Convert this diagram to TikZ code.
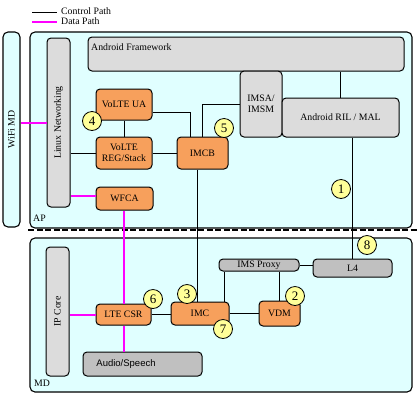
\documentclass[tikz,border=0pt]{standalone}
\usepackage{fontspec}
\setmainfont{Liberation Serif}
\newfontfamily\sansf{Liberation Sans}
\definecolor{bgcyan}{HTML}{E0FFFF}
\definecolor{orangef}{HTML}{F7A05C}
\definecolor{grayf}{HTML}{DCDCDC}
\definecolor{darkf}{HTML}{C0C0C0}
\definecolor{badgef}{HTML}{FFFF99}
\definecolor{magline}{HTML}{FF00FF}
\begin{document}
\begin{tikzpicture}[x=1pt,y=-1pt,
  txt/.style={font=\fontsize{9.8}{10.5}\selectfont, inner sep=0pt},
  regbox/.style={draw, line width=1.1pt, rounded corners=5pt, fill=bgcyan, inner sep=0pt},
  ibox/.style={draw, line width=1pt, rounded corners=4pt, inner sep=0pt, align=center,
               font=\fontsize{9.8}{10.5}\selectfont},
  obox/.style={ibox, fill=orangef},
  gbox/.style={ibox, fill=grayf},
  dbox/.style={ibox, fill=darkf},
  badgec/.style={circle, draw, line width=0.8pt, fill=badgef, minimum size=19pt, inner sep=0pt,
                 font=\fontsize{13}{13}\selectfont},
  ctrlline/.style={draw, line width=0.8pt},
  dataline/.style={draw=magline, line width=2pt}
]
\useasboundingbox (0,0) rectangle (417,400);

% legend
\coordinate (lc1) at (32,12);
\coordinate (lc2) at (57,12);
\coordinate (ld1) at (32,22);
\coordinate (ld2) at (57,22);
\draw[ctrlline] (lc1) -- (lc2);
\draw[dataline] (ld1) -- (ld2);
\node[txt, anchor=west] (lgc) at (61,11.5) {Control Path};
\node[txt, anchor=west] (lgd) at (61,21.5) {Data Path};

% regions
\node[regbox, minimum width=17pt, minimum height=195pt] (wifi) at (11.5,129.5) {};
\node[txt, rotate=90] (wifilabel) at (wifi.center) {WiFi MD};
\node[regbox, minimum width=382pt, minimum height=196pt] (ap) at (221,130) {};
\node[txt, anchor=west] (aplabel) at (33,218) {AP};
\node[regbox, minimum width=382pt, minimum height=154pt] (md) at (221,315) {};
\node[txt, anchor=west] (mdlabel) at (34,383) {MD};

% dashed divider
\coordinate (dl1) at (28,229.5);
\coordinate (dl2) at (417,229.5);
\draw[line width=2pt, dash pattern=on 6pt off 2.5pt] (dl1) -- (dl2);

% AP side boxes
\node[gbox, minimum width=23pt, minimum height=169pt] (linux) at (58.5,122.5) {};
\node[txt, rotate=90] (linuxlabel) at (linux.center) {Linux Networking};
\node[gbox, minimum width=316pt, minimum height=34pt] (fw) at (246,54) {};
\node[txt, anchor=west] (fwlabel) at (91,47.5) {Android Framework};
\node[gbox, minimum width=42pt, minimum height=66pt] (imsa) at (261,104) {IMSA/\\[1pt]IMSM};
\node[gbox, minimum width=117pt, minimum height=39pt] (ril) at (340.5,117.5) {Android RIL / MAL};
\node[obox, minimum width=56pt, minimum height=31pt] (ua) at (124,104.5) {VoLTE UA};
\node[obox, minimum width=56pt, minimum height=32pt] (reg) at (124,153) {VoLTE\\[1pt]REG/Stack};
\node[obox, minimum width=51pt, minimum height=32pt] (imcb) at (202.5,153) {IMCB};
\node[obox, minimum width=57pt, minimum height=23pt] (wfca) at (124.5,198.5) {WFCA};

% MD side boxes
\node[dbox, minimum width=79pt, minimum height=18pt] (l4) at (352.5,268) {L4};
\node[dbox, minimum width=80pt, minimum height=12pt] (proxy) at (259,265) {IMS Proxy};
\node[obox, minimum width=58pt, minimum height=23pt] (imc) at (200,313.5) {IMC};
\node[obox, minimum width=41pt, minimum height=25pt] (vdm) at (279.5,313.5) {VDM};
\node[obox, minimum width=55pt, minimum height=21pt] (csr) at (123.5,314.5) {LTE CSR};
\node[gbox, minimum width=23pt, minimum height=129pt] (ipcore) at (57.5,311.5) {};
\node[txt, rotate=90] (ipcorelabel) at (ipcore.center) {IP Core};
\node[dbox, minimum width=119pt, minimum height=24pt] (audio) at (142.5,364) {};
\node[txt, font=\sansf\fontsize{9.5}{10.5}\selectfont] (audiolabel) at (126,364) {Audio/Speech};

% control connectors
\draw[ctrlline] (fw.south -| ril.north) -- (ril.north);
\draw[ctrlline] (l4.north |- ril.south) -- (l4.north);
\draw[ctrlline] (ua.south) -- (reg.north);
\draw[ctrlline] (linux.east |- reg.west) -- (reg.west);
\draw[ctrlline] ([yshift=-7.5pt]ua.east) -| ([xshift=-12.5pt]imcb.north);
\draw[ctrlline] (reg.east) -- (imcb.west);
\draw[ctrlline] ([xshift=-0.5pt]imcb.north) |- (imsa.west);
\draw[ctrlline] ([xshift=-5.5pt]imcb.south) coordinate (imcbs) -- (imcbs |- imc.north);
\draw[ctrlline] (proxy.east) -- (proxy.east -| l4.west);
\draw[ctrlline] ([xshift=24pt]imc.north) coordinate (imcn) -- (imcn |- proxy.south);
\draw[ctrlline] (vdm.north) -- (vdm.north |- proxy.south);
\draw[ctrlline] (imc.east) -- (vdm.west);
\draw[ctrlline] (csr.east) -- (csr.east -| imc.west);

% data connectors
\draw[dataline] (linux.west) -- (linux.west -| wifi.east);
\draw[dataline] ([yshift=2.5pt]wfca.west) coordinate (wfw) -- (wfw -| linux.east);
\draw[dataline] ([xshift=-1pt]wfca.south) coordinate (wfs) -- (wfs |- csr.north);
\draw[dataline] (csr.west) -- (csr.west -| ipcore.east);
\draw[dataline] (csr.south) -- (csr.south |- audio.north);

% badges
\node[badgec] (b1) at (341,189) {1};
\node[badgec] (b2) at (295,296) {2};
\node[badgec] (b3) at (187,294) {3};
\node[badgec] (b4) at (92,121) {4};
\node[badgec] (b5) at (224,128) {5};
\node[badgec] (b6) at (153,299) {6};
\node[badgec] (b7) at (223,329) {7};
\node[badgec] (b8) at (367,245) {8};
\end{tikzpicture}
\end{document}
